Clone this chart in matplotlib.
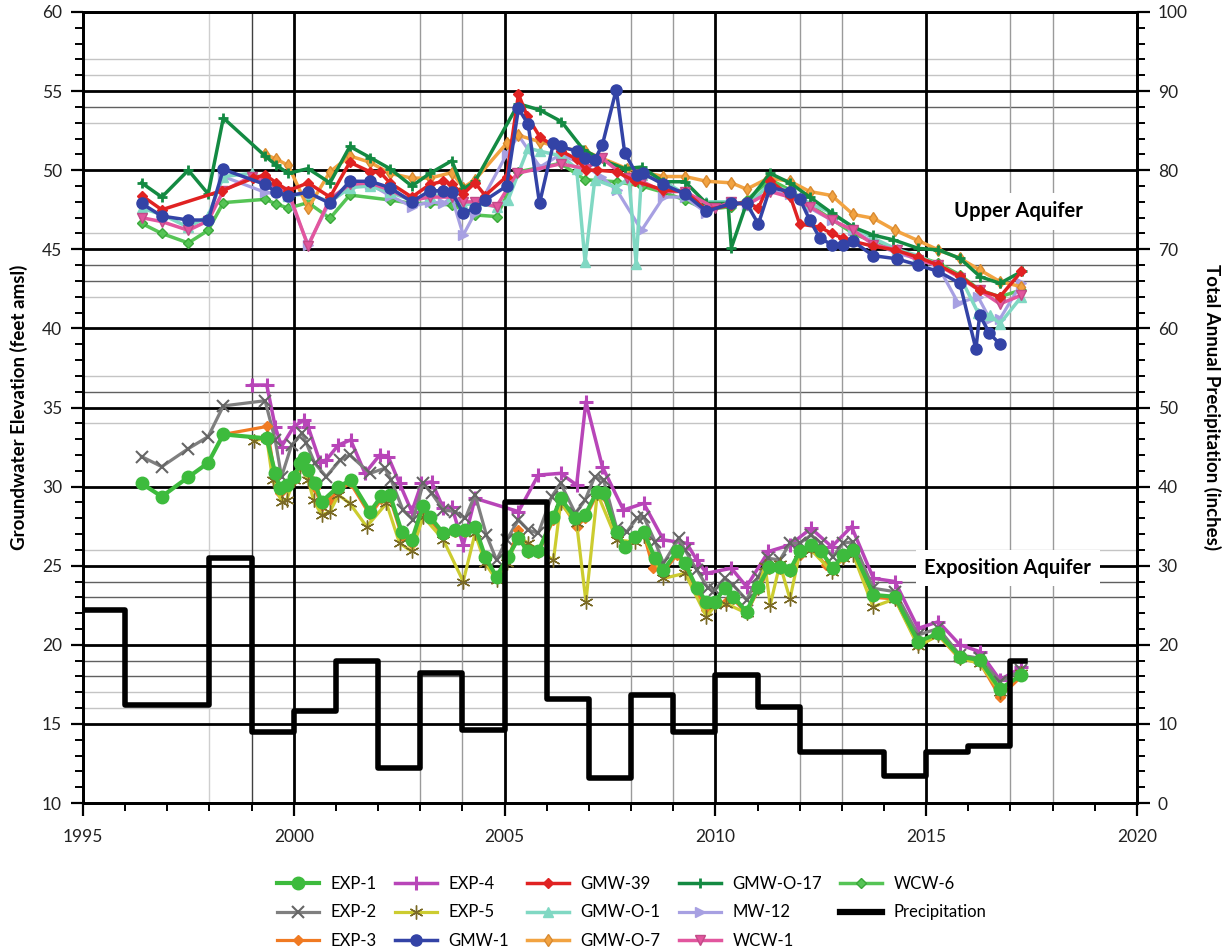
import matplotlib
matplotlib.use("Agg")
import matplotlib.pyplot as plt
from matplotlib.ticker import MultipleLocator
from matplotlib.lines import Line2D

plt.rcParams['font.family'] = ['Lato', 'DejaVu Sans']

# ---------------- Data ----------------
precip_years = [1995, 1996, 1997, 1998, 1999, 2000, 2001, 2002, 2003, 2004, 2005, 2006,
                2007, 2008, 2009, 2010, 2011, 2012, 2013, 2014, 2015, 2016, 2017, 2017.35]
precip_in = [24.4, 12.4, 12.4, 31.0, 9.0, 11.6, 18.0, 4.4, 16.4, 9.2, 38.0, 13.2,
             3.2, 13.6, 9.0, 16.2, 12.2, 6.4, 6.5, 3.4, 6.4, 7.2, 18.0, 18.0]

exp1_t = [1996.39, 1996.87, 1997.5, 1997.97, 1998.33, 1999.36, 1999.56, 1999.67, 1999.83, 2000.0, 2000.16, 2000.24,
          2000.34, 2000.5, 2000.66, 2001.06, 2001.35, 2001.81, 2002.08, 2002.28, 2002.56, 2002.8, 2003.07, 2003.23,
          2003.55, 2003.83, 2004.07, 2004.3, 2004.54, 2004.81, 2005.08, 2005.33, 2005.56, 2005.8, 2006.16, 2006.33,
          2006.68, 2006.91, 2007.19, 2007.35, 2007.66, 2007.86, 2008.1, 2008.3, 2008.57, 2008.77, 2009.09, 2009.28,
          2009.56, 2009.79, 2009.99, 2010.22, 2010.42, 2010.74, 2011.02, 2011.28, 2011.53, 2011.77, 2012.0, 2012.27,
          2012.51, 2012.79, 2013.03, 2013.27, 2013.75, 2014.26, 2014.81, 2015.29, 2015.8, 2016.27, 2016.75, 2017.26]
exp1_v = [30.2, 29.37, 30.6, 31.5, 33.3, 33.05, 30.84, 29.9, 30.1, 30.6, 31.5, 31.8,
          31.05, 30.2, 29.05, 30.0, 30.4, 28.4, 29.4, 29.5, 27.15, 26.6, 28.8, 28.1,
          27.05, 27.26, 27.26, 27.47, 25.57, 24.3, 25.57, 26.73, 25.9, 25.9, 28.1, 29.26,
          28.0, 28.2, 29.68, 29.58, 27.15, 26.2, 26.84, 27.15, 25.47, 24.73, 25.9, 25.15,
          23.57, 22.73, 22.73, 23.57, 23.04, 22.1, 23.68, 24.94, 24.94, 24.73, 25.9, 26.3,
          25.9, 24.84, 25.67, 26.0, 23.15, 23.04, 20.2, 20.73, 19.25, 19.04, 17.2, 18.1]

exp2_t = [1996.39, 1996.87, 1997.5, 1997.97, 1998.33, 1999.32, 1999.56, 1999.71, 1999.95, 2000.2, 2000.3, 2000.5,
          2000.77, 2001.1, 2001.33, 2001.81, 2002.16, 2002.31, 2002.59, 2002.83, 2003.07, 2003.27, 2003.55, 2003.83,
          2004.07, 2004.3, 2004.57, 2004.81, 2005.05, 2005.33, 2005.56, 2005.8, 2006.12, 2006.33, 2006.68, 2006.91,
          2007.14, 2007.35, 2007.66, 2007.9, 2008.14, 2008.3, 2008.57, 2008.77, 2009.13, 2009.28, 2009.56, 2009.83,
          2009.99, 2010.22, 2010.42, 2010.74, 2011.02, 2011.26, 2011.53, 2011.77, 2012.0, 2012.27, 2012.51, 2012.79,
          2013.03, 2013.27, 2013.75, 2014.26, 2014.81, 2015.29, 2015.8, 2016.27, 2016.75, 2017.26]
exp2_v = [31.9, 31.26, 32.4, 33.16, 35.1, 35.43, 32.95, 30.63, 32.63, 33.37, 32.74, 31.47,
          30.63, 31.68, 32.0, 30.84, 31.16, 30.42, 28.52, 27.9, 30.2, 29.58, 28.52, 28.42,
          28.0, 29.5, 26.94, 25.36, 26.63, 27.9, 27.26, 27.05, 29.37, 30.2, 28.31, 29.15,
          30.63, 30.42, 27.36, 27.15, 28.0, 28.1, 26.52, 25.15, 26.73, 26.0, 24.73, 23.57,
          23.47, 24.2, 23.78, 22.84, 24.3, 25.47, 25.36, 26.42, 26.42, 26.94, 26.42, 25.57,
          26.42, 26.52, 23.57, 23.36, 20.62, 21.04, 19.36, 19.15, 17.67, 18.4]

exp3_t = [1998.33, 1999.36, 1999.56, 1999.67, 1999.83, 2000.0, 2000.16, 2000.24, 2000.34, 2000.5, 2000.66, 2000.86,
          2001.06, 2001.35, 2001.81, 2002.08, 2002.28, 2002.56, 2002.8, 2003.07, 2003.23, 2003.55, 2003.83, 2004.07,
          2004.3, 2004.54, 2004.81, 2005.08, 2005.33, 2005.56, 2005.8, 2006.16, 2006.33, 2006.71, 2006.91, 2007.19,
          2007.35, 2007.66, 2007.86, 2008.1, 2008.3, 2008.53, 2008.77, 2009.09, 2009.28, 2009.56, 2009.79, 2009.99,
          2010.26, 2010.42, 2010.74, 2011.02, 2011.28, 2011.53, 2011.77, 2012.0, 2012.27, 2012.62, 2012.79, 2013.03,
          2013.27, 2013.75, 2014.26, 2014.81, 2015.29, 2015.8, 2016.27, 2016.75, 2017.26]
exp3_v = [33.3, 33.8, 30.6, 29.6, 29.9, 30.4, 31.3, 31.6, 30.8, 29.9, 28.8, 29.15,
          29.8, 30.2, 28.2, 29.2, 29.3, 26.9, 26.4, 28.6, 27.9, 26.9, 27.1, 27.1,
          27.3, 25.4, 24.2, 25.4, 27.26, 25.8, 25.8, 27.9, 29.1, 27.47, 28.0, 29.5,
          29.4, 27.0, 26.1, 26.7, 27.0, 24.84, 24.6, 25.7, 25.0, 23.4, 22.2, 22.6,
          22.73, 22.9, 22.0, 23.5, 24.8, 24.8, 24.6, 25.7, 26.1, 25.05, 24.7, 25.5,
          25.9, 23.0, 22.9, 20.0, 20.6, 19.1, 18.9, 16.72, 18.0]

exp4_t = [1999.0, 1999.36, 1999.56, 1999.71, 2000.0, 2000.24, 2000.34, 2000.62, 2000.77, 2001.06, 2001.35, 2001.69,
          2002.04, 2002.24, 2002.51, 2002.8, 2003.03, 2003.27, 2003.55, 2003.75, 2004.02, 2004.3, 2005.33, 2005.8,
          2006.33, 2006.71, 2006.93, 2007.32, 2007.82, 2008.3, 2008.77, 2009.32, 2009.56, 2009.79, 2010.38, 2010.74,
          2011.26, 2011.77, 2012.27, 2012.76, 2013.23, 2013.75, 2014.26, 2014.81, 2015.29, 2015.8, 2016.27, 2016.75,
          2017.26]
exp4_v = [36.42, 36.42, 33.79, 32.53, 33.79, 34.21, 33.79, 31.58, 31.68, 32.63, 32.95, 30.84,
          32.0, 31.9, 30.2, 28.42, 30.2, 30.3, 28.63, 28.73, 26.3, 29.26, 28.42, 30.73,
          30.84, 30.1, 35.37, 31.26, 28.52, 28.94, 26.63, 26.42, 25.36, 24.52, 24.84, 23.68,
          25.9, 26.31, 27.36, 26.2, 27.47, 24.2, 24.0, 21.04, 21.46, 20.0, 19.57, 17.78,
          18.57]

exp5_t = [1999.05, 1999.36, 1999.5, 1999.71, 1999.83, 2000.0, 2000.16, 2000.34, 2000.47, 2000.66, 2000.86, 2001.06,
          2001.33, 2001.73, 2002.2, 2002.51, 2002.8, 2003.07, 2003.55, 2004.02, 2004.3, 2004.54, 2004.81, 2005.05,
          2005.33, 2005.56, 2006.16, 2006.33, 2006.71, 2006.93, 2007.2, 2007.66, 2008.1, 2008.3, 2008.77, 2009.28,
          2009.79, 2010.0, 2010.26, 2010.74, 2011.02, 2011.18, 2011.3, 2011.53, 2011.77, 2012.0, 2012.27, 2012.76,
          2013.03, 2013.27, 2013.74, 2014.26, 2014.81, 2015.29, 2015.8, 2016.27, 2016.75, 2017.26]
exp5_v = [32.9, 33.05, 30.42, 29.05, 29.15, 30.42, 31.26, 30.42, 29.15, 28.2, 28.42, 29.47,
          28.94, 27.47, 28.94, 26.42, 25.9, 28.1, 26.63, 24.0, 27.05, 25.15, 24.1, 25.15,
          26.84, 26.42, 25.36, 28.94, 27.68, 22.73, 29.58, 26.63, 26.5, 26.9, 24.2, 24.52,
          21.78, 22.5, 22.6, 22.0, 23.6, 25.0, 22.5, 25.1, 22.9, 25.8, 26.0, 24.63,
          25.5, 25.7, 22.4, 22.9, 19.9, 20.6, 19.15, 18.83, 17.04, 18.2]

gmw1_t = [1996.39, 1996.87, 1997.5, 1997.97, 1998.33, 1999.32, 1999.59, 1999.87, 2000.34, 2000.86, 2001.33, 2001.81,
          2002.28, 2002.8, 2003.23, 2003.55, 2003.75, 2004.02, 2004.3, 2004.54, 2005.05, 2005.33, 2005.56, 2005.83,
          2006.16, 2006.33, 2006.71, 2006.91, 2007.14, 2007.32, 2007.65, 2007.85, 2008.14, 2008.28, 2008.77, 2009.28,
          2009.79, 2010.38, 2010.74, 2011.02, 2011.3, 2011.77, 2012.0, 2012.24, 2012.48, 2012.76, 2013.03, 2013.27,
          2013.74, 2014.3, 2014.81, 2015.29, 2015.8, 2016.18, 2016.27, 2016.5, 2016.75]
gmw1_v = [47.9, 47.1, 46.85, 46.85, 50.05, 49.1, 48.6, 48.4, 48.6, 47.9, 49.3, 49.3,
          48.9, 48.0, 48.7, 48.7, 48.6, 47.3, 47.6, 48.1, 49.0, 53.9, 52.9, 47.9,
          51.7, 51.5, 51.2, 50.75, 50.65, 51.6, 55.1, 51.1, 49.7, 49.8, 49.1, 48.5,
          47.4, 47.9, 47.9, 46.6, 48.9, 48.65, 48.2, 46.85, 45.7, 45.3, 45.3, 45.5,
          44.6, 44.4, 44.0, 43.6, 42.85, 38.7, 40.85, 39.7, 39.0]

gmw39_t = [1996.39, 1996.87, 1998.29, 1999.04, 1999.32, 1999.59, 1999.87, 2000.34, 2000.86, 2001.33, 2001.81, 2002.04,
           2002.28, 2002.8, 2003.23, 2003.55, 2003.75, 2004.02, 2004.3, 2004.54, 2005.05, 2005.33, 2005.54, 2005.84,
           2006.35, 2006.71, 2006.93, 2007.2, 2007.66, 2008.1, 2008.77, 2009.28, 2009.79, 2010.38, 2010.74, 2011.02,
           2011.3, 2011.77, 2012.0, 2012.48, 2012.76, 2013.03, 2013.27, 2013.74, 2014.26, 2014.81, 2015.29, 2015.8,
           2016.27, 2016.75, 2017.26]
gmw39_v = [48.4, 47.5, 48.7, 49.5, 49.7, 49.2, 48.7, 49.2, 48.3, 50.5, 49.9, 49.9,
           49.2, 48.3, 49.1, 49.3, 49.1, 48.5, 49.2, 48.4, 49.6, 54.8, 53.4, 52.1,
           51.2, 50.7, 50.0, 50.0, 49.9, 49.3, 48.75, 48.65, 47.5, 47.8, 48.0, 47.6,
           49.3, 48.4, 46.6, 46.4, 46.0, 45.7, 45.5, 45.2, 44.96, 44.5, 44.0, 43.3,
           42.4, 42.0, 43.6]

gmwo1_t = [1996.39, 1996.87, 1997.5, 1997.97, 1998.33, 1999.0, 1999.32, 1999.59, 1999.87, 2000.34, 2000.86, 2001.33,
           2001.81, 2002.28, 2002.8, 2003.23, 2003.75, 2004.02, 2004.3, 2004.81, 2005.08, 2005.56, 2005.84, 2006.35,
           2006.71, 2006.91, 2007.14, 2007.65, 2007.95, 2008.12, 2008.25, 2008.77, 2009.28, 2009.79, 2010.38, 2010.74,
           2011.3, 2011.77, 2012.24, 2012.76, 2013.27, 2013.75, 2014.3, 2014.81, 2015.29, 2015.8, 2016.23, 2016.51,
           2016.75, 2017.26]
gmwo1_v = [47.6, 47.2, 46.4, 47.1, 49.6, 49.8, 49.4, 48.9, 48.4, 48.5, 48.0, 48.9,
           49.0, 48.6, 48.1, 48.4, 48.4, 47.8, 47.9, 47.7, 48.1, 51.4, 51.2, 50.9,
           50.1, 44.2, 49.4, 48.9, 49.5, 44.1, 49.7, 49.3, 48.5, 48.0, 48.0, 47.8,
           49.1, 48.65, 47.9, 47.3, 46.4, 45.7, 45.0, 44.6, 44.0, 43.3, 41.0, 40.85,
           40.3, 42.0]

gmwo7_t = [1999.32, 1999.59, 1999.87, 2000.34, 2000.86, 2001.33, 2001.81, 2002.28, 2002.8, 2003.23, 2003.75, 2004.02,
           2004.3, 2005.05, 2005.33, 2005.84, 2006.35, 2006.91, 2007.9, 2008.25, 2008.77, 2009.28, 2009.79, 2010.38,
           2010.74, 2011.26, 2011.77, 2012.24, 2012.76, 2013.27, 2013.75, 2014.26, 2014.81, 2015.29, 2015.8, 2016.27,
           2016.75, 2017.26]
gmwo7_v = [51.0, 50.7, 50.3, 47.6, 49.9, 50.9, 50.5, 49.8, 49.5, 49.5, 49.85, 48.9,
           49.4, 51.7, 52.2, 51.8, 51.4, 51.2, 50.1, 49.9, 49.6, 49.6, 49.3, 49.2,
           48.8, 49.5, 49.3, 48.65, 48.4, 47.2, 46.96, 46.2, 45.55, 44.96, 44.43, 43.7,
           42.96, 42.64]

gmwo17_t = [1996.39, 1996.87, 1997.5, 1997.97, 1998.33, 1999.32, 1999.59, 1999.87, 2000.34, 2000.86, 2001.33, 2001.81,
            2002.28, 2002.8, 2003.23, 2003.75, 2004.02, 2004.3, 2005.33, 2005.84, 2006.35, 2006.87, 2007.35, 2007.85,
            2008.25, 2008.77, 2009.28, 2009.79, 2010.3, 2010.38, 2010.74, 2011.3, 2011.77, 2012.24, 2012.76, 2013.27,
            2013.74, 2014.22, 2014.81, 2015.29, 2015.8, 2016.28, 2016.75, 2017.27]
gmwo17_v = [49.2, 48.3, 50.0, 48.5, 53.3, 50.9, 50.3, 49.8, 50.1, 49.2, 51.5, 50.8,
            50.1, 49.0, 49.8, 50.6, 48.8, 49.3, 54.2, 53.8, 53.07, 51.3, 50.6, 50.1,
            50.2, 49.27, 49.27, 47.9, 47.9, 45.1, 47.9, 49.8, 49.2, 48.3, 47.3, 46.4,
            45.9, 45.6, 45.06, 44.96, 44.43, 43.27, 42.85, 43.6]

mw12_t = [1998.33, 1999.32, 1999.87, 2000.34, 2000.86, 2001.33, 2001.81, 2002.28, 2002.8, 2003.23, 2003.55, 2003.75,
          2004.02, 2004.3, 2005.05, 2005.33, 2005.84, 2006.33, 2006.91, 2007.28, 2007.66, 2008.25, 2008.77, 2009.28,
          2009.79, 2010.38, 2010.74, 2011.3, 2011.77, 2012.24, 2012.76, 2013.27, 2013.75, 2014.3, 2014.81, 2015.29,
          2015.76, 2016.23, 2016.51, 2016.75, 2017.26]
mw12_v = [49.6, 48.6, 48.4, 45.3, 48.0, 48.9, 49.1, 48.4, 47.7, 48.0, 47.9, 48.3,
          45.9, 47.3, 51.0, 52.2, 50.2, 51.0, 50.3, 49.6, 48.75, 46.2, 48.3, 48.3,
          47.3, 48.0, 47.8, 48.65, 48.5, 47.6, 46.85, 46.2, 45.4, 44.75, 44.4, 43.9,
          41.6, 42.0, 40.6, 40.6, 42.85]

wcw1_t = [1996.39, 1996.87, 1997.5, 1997.97, 1998.33, 1999.0, 1999.32, 1999.59, 1999.87, 2000.34, 2000.86, 2001.33,
          2001.81, 2002.28, 2002.8, 2003.23, 2003.75, 2004.02, 2004.3, 2004.81, 2005.29, 2006.33, 2006.93, 2007.32,
          2007.9, 2008.25, 2008.77, 2009.28, 2009.99, 2010.38, 2010.74, 2011.3, 2011.77, 2012.24, 2012.76, 2013.27,
          2013.75, 2014.3, 2014.81, 2015.29, 2015.8, 2016.27, 2016.75, 2017.26]
wcw1_v = [47.0, 46.75, 46.2, 46.8, 48.7, 49.6, 49.3, 48.9, 48.65, 45.2, 48.2, 49.1,
          49.2, 48.75, 48.1, 48.3, 48.3, 48.0, 48.0, 47.7, 49.8, 50.4, 50.1, 50.75,
          49.5, 49.3, 48.65, 48.65, 47.6, 48.0, 47.8, 48.65, 48.3, 47.7, 46.85, 46.2,
          45.3, 44.96, 44.3, 44.0, 43.2, 42.4, 41.55, 42.1]

wcw6_t = [1996.39, 1996.87, 1997.5, 1997.97, 1998.33, 1999.32, 1999.59, 1999.87, 2000.34, 2000.86, 2001.33, 2002.28,
          2002.8, 2003.23, 2003.75, 2004.3, 2004.81, 2005.33, 2006.33, 2006.91, 2007.66, 2008.25, 2008.77, 2009.28,
          2009.79, 2010.38, 2010.74, 2011.3, 2011.77, 2012.24, 2012.76, 2013.27, 2013.74, 2014.3, 2014.81, 2015.29,
          2015.8, 2016.27, 2016.75, 2017.26]
wcw6_v = [46.64, 46.0, 45.4, 46.2, 47.95, 48.16, 47.86, 47.6, 47.95, 46.96, 48.43, 48.12,
          47.9, 47.9, 47.8, 47.17, 47.07, 49.9, 50.43, 49.4, 49.27, 49.0, 48.6, 48.12,
          47.5, 47.7, 48.1, 49.4, 48.75, 47.8, 46.9, 46.0, 45.48, 44.85, 44.54, 44.12,
          43.38, 42.43, 42.0, 42.43]

series_names = ['EXP-1', 'EXP-2', 'EXP-3', 'EXP-4', 'EXP-5', 'GMW-1', 'GMW-39',
                'GMW-O-1', 'GMW-O-7', 'GMW-O-17', 'MW-12', 'WCW-1', 'WCW-6']
series_t = [exp1_t, exp2_t, exp3_t, exp4_t, exp5_t, gmw1_t, gmw39_t,
            gmwo1_t, gmwo7_t, gmwo17_t, mw12_t, wcw1_t, wcw6_t]
series_v = [exp1_v, exp2_v, exp3_v, exp4_v, exp5_v, gmw1_v, gmw39_v,
            gmwo1_v, gmwo7_v, gmwo17_v, mw12_v, wcw1_v, wcw6_v]

# ---------------- Styles ----------------
styles = {
    'EXP-1':    dict(color='#3dbb3d', marker='o', ms=9, mec='#3dbb3d', lw=3.0, z=14),
    'EXP-2':    dict(color='#7f7f7f', marker='x', ms=8, mec='#666666', mew=1.5, lw=2.3, z=11),
    'EXP-3':    dict(color='#f07a22', marker='D', ms=5.5, mec='#f07a22', lw=2.3, z=12),
    'EXP-4':    dict(color='#b845b8', marker='+', ms=10, mec='#b845b8', mew=2.2, lw=2.5, z=10),
    'EXP-5':    dict(color='#cccc30', marker=(6, 2, 0), ms=10, mec='#7a6a25', mew=1.0, lw=2.3, z=13),
    'GMW-1':    dict(color='#3343a6', marker='o', ms=8, mec='#3343a6', lw=2.5, z=9),
    'GMW-39':   dict(color='#e02222', marker='D', ms=5.5, mec='#e02222', lw=2.5, z=8),
    'GMW-O-1':  dict(color='#80d8c3', marker='^', ms=7, mec='#80d8c3', lw=2.5, z=4),
    'GMW-O-7':  dict(color='#f2a341', marker='d', ms=6, mec='#d98a30', lw=2.5, z=5),
    'GMW-O-17': dict(color='#138a42', marker='+', ms=7, mec='#138a42', mew=2.0, lw=2.5, z=6),
    'MW-12':    dict(color='#a7a0e2', marker='>', ms=7, mec='#a7a0e2', lw=2.3, z=3),
    'WCW-1':    dict(color='#e2569e', marker='v', ms=7, mec='#c24a88', lw=2.5, z=7),
    'WCW-6':    dict(color='#55c455', marker='D', ms=5, mec='#3aa83a', lw=2.5, z=2),
}

# ---------------- Figure ----------------
fig = plt.figure(figsize=(12.27, 9.51), dpi=100)
ax = fig.add_axes([0.0676, 0.1556, 0.859, 0.8318])
ax2 = ax.twinx()

ax.set_xlim(1995, 2020)
ax.set_ylim(10, 60)
ax2.set_ylim(0, 100)

# grid lines
for y in [15, 20, 25, 30, 35, 40, 45, 50, 55]:
    ax.axhline(y, color='black', lw=2.0, zorder=0.6)
for y in [54, 44, 43, 36, 24, 23, 19, 18]:
    ax.axhline(y, color='#606060', lw=1.0, zorder=0.5)
for y in [57, 56, 53, 46, 42, 37, 34, 26, 17, 16]:
    ax.axhline(y, color='#c4c4c4', lw=1.0, zorder=0.5)
for x in [2000, 2005, 2010, 2015]:
    ax.axvline(x, color='black', lw=2.0, zorder=0.6)
for x in [2003, 2004, 2008, 2009, 2012, 2013, 2017, 2018]:
    ax.axvline(x, color='#9a9a9a', lw=1.0, zorder=0.5)
ax.axvline(1998, color='#cfcfcf', lw=1.0, zorder=0.5)
ax.axvline(1999, color='#404040', lw=1.0, zorder=0.5)

# precipitation (right axis)
ax2.plot(precip_years, precip_in, drawstyle='steps-post', color='black', lw=4.0, zorder=2)

# groundwater series
handles = {}
for name, t, v in zip(series_names, series_t, series_v):
    s = styles[name]
    ln, = ax.plot(t, v, color=s['color'], lw=s['lw'], marker=s['marker'], ms=s['ms'],
                  mfc=s['color'], mec=s['mec'], mew=s.get('mew', 1.0), zorder=s['z'],
                  label=name)
    handles[name] = ln
precip_handle = Line2D([], [], color='black', lw=4.5, label='Precipitation')

# annotations
box = dict(facecolor='white', edgecolor='none', pad=6)
ax.text(2017.18, 47.4, 'Upper Aquifer', ha='center', va='center', fontsize=14.5,
        fontweight='bold', bbox=box, zorder=1)
ax.text(2016.94, 24.85, 'Exposition Aquifer', ha='center', va='center', fontsize=14.5,
        fontweight='bold', bbox=box, zorder=1)

# ticks
ax.xaxis.set_major_locator(MultipleLocator(5))
ax.xaxis.set_minor_locator(MultipleLocator(1))
ax.yaxis.set_major_locator(MultipleLocator(5))
ax.yaxis.set_minor_locator(MultipleLocator(1))
ax2.yaxis.set_major_locator(MultipleLocator(10))
ax2.yaxis.set_minor_locator(MultipleLocator(2))
ax.xaxis.set_major_formatter(plt.FuncFormatter(lambda v, p: f'{int(round(v))}'))
for a in (ax, ax2):
    a.tick_params(which='major', direction='out', length=9, width=1.6, labelsize=12.5,
                  colors='black', labelcolor='#222222', pad=6)
    a.tick_params(which='minor', direction='out', length=6, width=1.4, colors='black')
    for sp in a.spines.values():
        sp.set_linewidth(2.0)
ax.tick_params(axis='x', which='both', bottom=True, top=False)
ax.tick_params(axis='x', which='major', pad=10)

ax.set_ylabel('Groundwater Elevation (feet amsl)', fontsize=13.5, fontweight='bold', labelpad=10)
ax2.set_ylabel('Total Annual Precipitation (inches)', fontsize=13.5, fontweight='bold',
               rotation=270, labelpad=24)

order = ['EXP-1', 'EXP-2', 'EXP-3', 'EXP-4', 'EXP-5', 'GMW-1', 'GMW-39', 'GMW-O-1',
         'GMW-O-7', 'GMW-O-17', 'MW-12', 'WCW-1', 'WCW-6']
leg_handles = [handles[n] for n in order] + [precip_handle]
leg_labels = order + ['Precipitation']
fig.legend(leg_handles, leg_labels, ncol=5, loc='center', bbox_to_anchor=(0.515, 0.0405),
           frameon=False, fontsize=12, handlelength=2.5, columnspacing=1.1,
           labelspacing=0.75, handletextpad=0.7)

fig.savefig('out.png', dpi=100)
